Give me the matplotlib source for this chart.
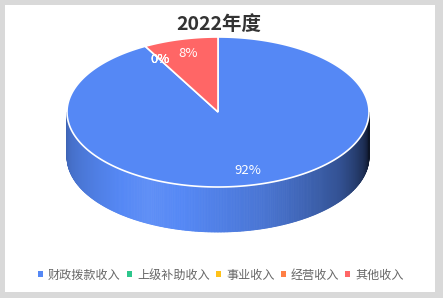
import numpy as np
import matplotlib.pyplot as plt
from matplotlib.patches import Rectangle, Polygon
from matplotlib.collections import PolyCollection
import matplotlib.colors as mcolors

plt.rcParams['font.family'] = ['Noto Sans CJK SC', 'DejaVu Sans']

# data
title = '2022年度'
categories = ['财政拨款收入', '上级补助收入', '事业收入', '经营收入', '其他收入']
values = [92, 0, 0, 0, 8]
colors = ['#5588F5', '#2DC68C', '#FFC21A', '#FF7F45', '#FF6666']

W, H = 443, 298
fig = plt.figure(figsize=(W / 100, H / 100), dpi=100)
fig.patch.set_facecolor('#d9d9d9')
ax = fig.add_axes([0, 0, 1, 1])
ax.set_xlim(0, W)
ax.set_ylim(H, 0)
ax.axis('off')
ax.add_patch(Rectangle((5, 5), 430, 287, facecolor='white', edgecolor='none'))

# pie geometry (pixels)
cx, cy = 218, 112
rx, ry = 151, 75
depth = 45


def pt(t, r=1.0, dz=0.0):
    return cx + r * rx * np.cos(t), cy - r * ry * np.sin(t) + dz


def shade(c, f):
    rgb = np.array(mcolors.to_rgb(c))
    if f <= 1:
        return tuple(rgb * f)
    return tuple(rgb + (1 - rgb) * (f - 1))


total = sum(values)
# clockwise from 12 o'clock
bounds = []
start = np.pi / 2
for v in values:
    end = start - 2 * np.pi * v / total
    bounds.append((start, end))
    start = end

# side walls (front half only)
for (a0, a1), c in zip(bounds, colors):
    lo, hi = min(a0, a1), max(a0, a1)
    if hi - lo <= 0:
        continue
    ts = np.linspace(lo, hi, 600)
    polys, fcs = [], []
    for t0, t1 in zip(ts[:-1], ts[1:]):
        tm = (t0 + t1) / 2
        if np.sin(tm) > 0:
            continue
        ang = np.mod(tm, 2 * np.pi)
        u = (ang - np.pi) / np.pi
        f = np.interp(u, [0, 0.08, 0.35, 0.6, 0.8, 0.93, 1.0],
                      [0.72, 0.82, 1.06, 0.86, 0.6, 0.32, 0.15])
        x0, y0 = pt(t0)
        x1, y1 = pt(t1)
        polys.append([(x0, y0), (x1, y1), (x1, y1 + depth), (x0, y0 + depth)])
        fcs.append(shade(c, f))
    if polys:
        ax.add_collection(PolyCollection(polys, facecolors=fcs, edgecolors=fcs,
                                         linewidths=0.6))

# top face
for (a0, a1), c in zip(bounds, colors):
    if a0 == a1:
        continue
    ts = np.linspace(a0, a1, 300)
    xs, ys = pt(ts)
    verts = [(cx, cy)] + list(zip(xs, ys))
    ax.add_patch(Polygon(verts, closed=True, facecolor=c, edgecolor='white',
                         linewidth=1.2, joinstyle='miter'))

# labels
for (a0, a1), v in zip(bounds, values):
    tm = (a0 + a1) / 2
    x, y = pt(tm, 0.8)
    ax.text(x, y, f'{v}%', color='white', fontsize=9.5, ha='center', va='center')

ax.text(219, 24, title, fontsize=14, fontweight='bold', color='#333333',
        ha='center', va='center')

# legend
handles = [Rectangle((0, 0), 1, 1, facecolor=c, edgecolor='none') for c in colors]
leg = fig.legend(handles, categories, loc='center', bbox_to_anchor=(221 / W, 1 - 275 / H),
                 ncol=5, frameon=False, fontsize=8.7, handlelength=0.4, handleheight=0.45,
                 handletextpad=0.45, columnspacing=0.5, labelcolor='#666666')

fig.savefig('out.png', dpi=100, facecolor=fig.get_facecolor())
